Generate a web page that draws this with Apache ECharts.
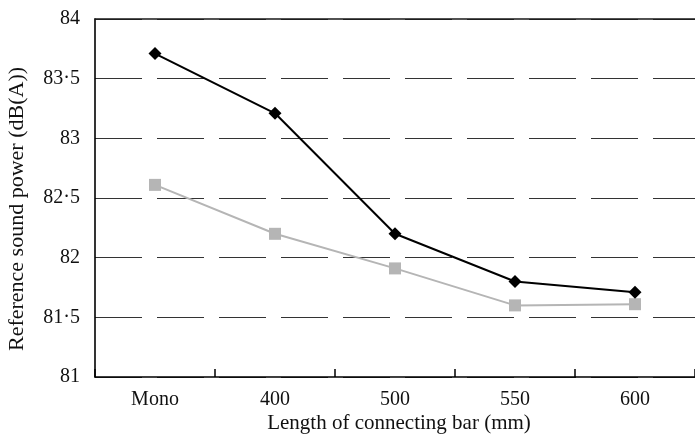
<!DOCTYPE html>
<html><head><meta charset="utf-8">
<script src="https://cdn.jsdelivr.net/npm/echarts@6/dist/echarts.min.js"></script>
<style>html,body{margin:0;padding:0;background:#fff}#c{width:695px;height:441px}</style>
</head><body><div id="c"></div>
<script>
const categories = ['Mono', '400', '500', '550', '600'];
const blackSeries = [83.71, 83.21, 82.2, 81.8, 81.71];
const graySeries = [82.61, 82.2, 81.91, 81.6, 81.61];
const yTicks = [81, 81.5, 82, 82.5, 83, 83.5, 84];
const xTitle = 'Length of connecting bar (mm)';
const yTitle = 'Reference sound power (dB(A))';
const font = 'Liberation Serif';
const chart = echarts.init(document.getElementById('c'), null, {renderer: 'canvas'});
chart.setOption({
  animation: false,
  backgroundColor: '#fff',
  grid: {left: 95, top: 19, width: 607.5, height: 358, containLabel: false},
  xAxis: [{
    type: 'category', data: categories, boundaryGap: true,
    axisLine: {show: true, lineStyle: {color: '#000', width: 1.6}},
    axisTick: {show: true, inside: true, length: 8, lineStyle: {color: '#000', width: 1.5}},
    axisLabel: {color: '#111', fontFamily: font, fontSize: 20, margin: 13}
  }, {
    type: 'category', data: categories, position: 'top',
    axisLine: {show: true, lineStyle: {color: '#1a1a1a', width: 1.6}},
    axisTick: {show: false}, axisLabel: {show: false}
  }],
  yAxis: {
    type: 'value', min: yTicks[0], max: yTicks[yTicks.length - 1], interval: 0.5,
    axisLine: {show: true, lineStyle: {color: '#000', width: 1.6}},
    axisTick: {show: false},
    axisLabel: {color: '#111', fontFamily: font, fontSize: 20, margin: 15,
      formatter: v => String(v).replace('.', '·')},
    splitLine: {show: true, lineStyle: {color: '#333', width: 1.2, type: [47, 15]}}
  },
  graphic: [{
    type: 'text', x: 399, y: 423,
    style: {text: xTitle, font: '21px "Liberation Serif"', fill: '#111', align: 'center', verticalAlign: 'middle'}
  }, {
    type: 'text', x: 17, y: 209, rotation: Math.PI / 2,
    style: {text: yTitle, font: '22px "Liberation Serif"', fill: '#111', align: 'center', verticalAlign: 'middle'}
  }],
  series: [{
    type: 'line', data: blackSeries, symbol: 'diamond', symbolSize: 13,
    lineStyle: {color: '#000', width: 2}, itemStyle: {color: '#000'}, z: 3
  }, {
    type: 'line', data: graySeries, symbol: 'rect', symbolSize: 12,
    lineStyle: {color: '#b5b5b5', width: 2}, itemStyle: {color: '#b5b5b5'}, z: 2
  }]
});
</script></body></html>
